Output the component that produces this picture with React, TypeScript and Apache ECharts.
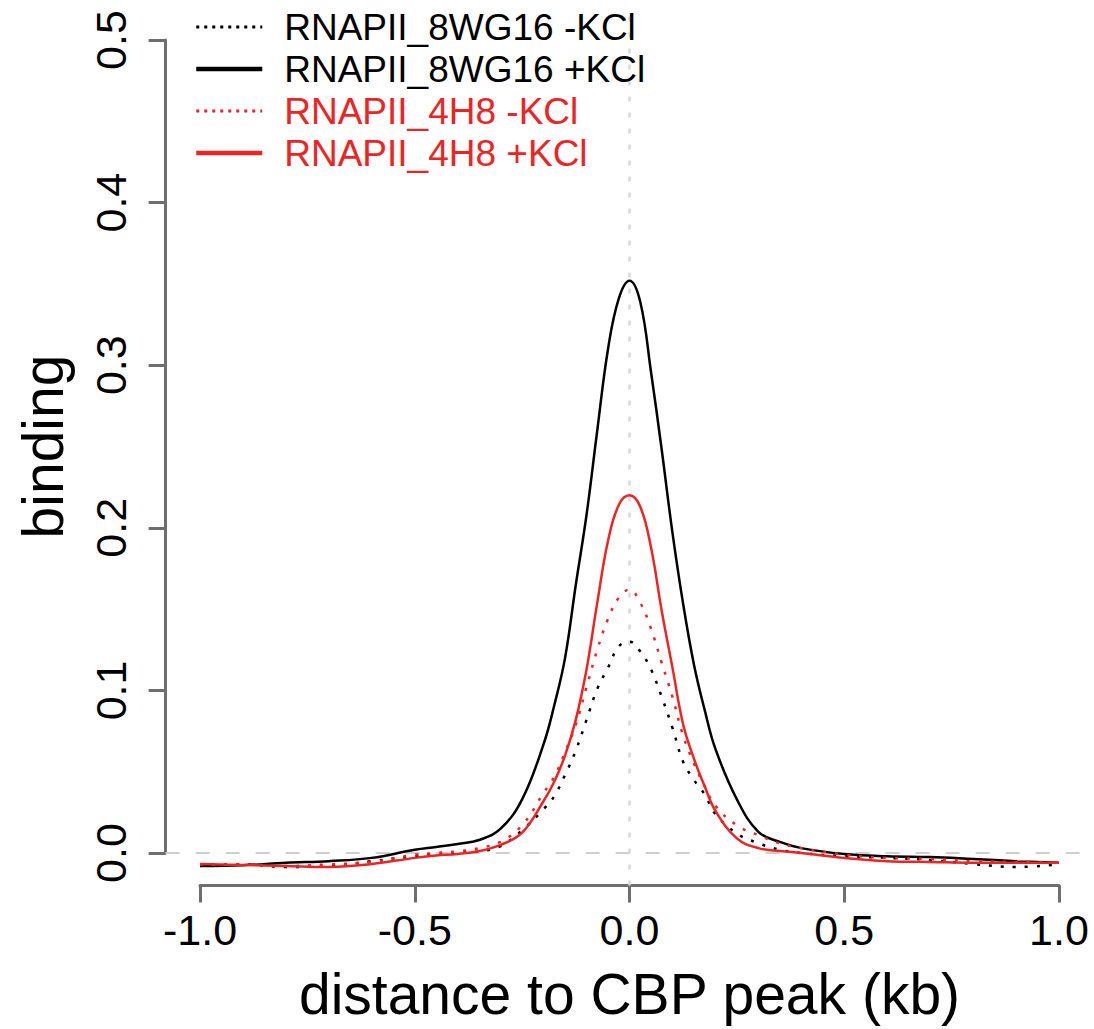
import React, { useEffect, useRef } from 'react';
import * as echarts from 'echarts';

// distance to CBP peak (kb)
const distance = [
  -1, -0.9, -0.8, -0.7, -0.6, -0.5, -0.45, -0.4, -0.35, -0.3, -0.25,
  -0.2, -0.175, -0.15, -0.125, -0.1, -0.075, -0.05, -0.025, 0,
  0.025, 0.05, 0.075, 0.1, 0.125, 0.15, 0.175, 0.2,
  0.25, 0.3, 0.35, 0.4, 0.5, 0.6, 0.7, 0.8, 0.9, 1.0,
];

const rnap8wg16Minus = [
  -0.007, -0.007, -0.0086, -0.008, -0.005, -0.002, -0.001, 0, 0.001, 0.0043, 0.014,
  0.027, 0.035, 0.048, 0.063, 0.082, 0.101, 0.114, 0.127, 0.130,
  0.124, 0.113, 0.096, 0.077, 0.056, 0.045, 0.036, 0.024,
  0.012, 0.006, 0.002, 0, -0.002, -0.003, -0.0043, -0.0068, -0.0086, -0.007,
];

const rnap8wg16Plus = [
  -0.008, -0.0075, -0.006, -0.005, -0.003, 0.002, 0.0037, 0.0055, 0.008, 0.015, 0.033,
  0.067, 0.091, 0.120, 0.165, 0.208, 0.260, 0.310, 0.341, 0.352,
  0.339, 0.296, 0.248, 0.197, 0.153, 0.116, 0.088, 0.064,
  0.033, 0.013, 0.0068, 0.003, -0.0006, -0.002, -0.0025, -0.0037, -0.005, -0.006,
];

const rnap4h8Minus = [
  -0.007, -0.007, -0.008, -0.007, -0.0055, -0.001, 0, 0.001, 0.003, 0.007, 0.017,
  0.037, 0.047, 0.062, 0.079, 0.102, 0.125, 0.144, 0.157, 0.162,
  0.154, 0.138, 0.117, 0.096, 0.072, 0.055, 0.041, 0.029,
  0.017, 0.011, 0.006, 0.003, -0.001, -0.003, -0.0037, -0.005, -0.0055, -0.006,
];

const rnap4h8Plus = [
  -0.0068, -0.0074, -0.008, -0.0086, -0.0068, -0.003, -0.0015, -0.0006, 0.0012, 0.005, 0.0125,
  0.032, 0.044, 0.060, 0.082, 0.113, 0.154, 0.192, 0.214, 0.220,
  0.213, 0.188, 0.149, 0.114, 0.079, 0.058, 0.041, 0.026,
  0.009, 0.003, 0.0012, 0, -0.003, -0.005, -0.0055, -0.006, -0.006, -0.006,
];

const seriesNames = [
  'RNAPII_8WG16 -KCl',
  'RNAPII_8WG16 +KCl',
  'RNAPII_4H8 -KCl',
  'RNAPII_4H8 +KCl',
];

const X_MIN = -1;
const X_MAX = 1;
const X_INTERVAL = 0.5;
const Y_MIN = 0;
const Y_MAX = 0.5;
const Y_INTERVAL = 0.1;

const FONT = "'Liberation Sans', Arial, Helvetica, sans-serif";
const RED = '#ec2424';
const BLACK = '#000000';
const AXIS_GRAY = '#6e6e6e';

const W = 1094;
const H = 1029;

export default function App() {
  const ref = useRef<HTMLDivElement>(null);

  useEffect(() => {
    if (!ref.current) return;
    const chart = echarts.init(ref.current, null, { renderer: 'svg' });

    // axis frame (R style): axes span only the tick range
    const g1 = { left: 200, right: 35, top: 40, bottom: 176 };
    const xPer = (W - g1.left - g1.right) / (X_MAX - X_MIN);
    const yPer = (H - g1.top - g1.bottom) / (Y_MAX - Y_MIN);
    const xPad = (X_MAX - X_MIN) * 0.04;
    const yPad = (Y_MAX - Y_MIN) * 0.04;
    // plot region (4% expanded)
    const g0 = {
      left: g1.left - xPad * xPer,
      right: g1.right - xPad * xPer,
      top: g1.top - yPad * yPer,
      bottom: g1.bottom - yPad * yPer,
    };

    const mk = (vals: number[]) => distance.map((d, i) => [d, vals[i]]);
    const dotted = [3, 9];
    const hiddenSymbol = { color: 'transparent', opacity: 0, borderWidth: 0 };

    const option: any = {
      animation: false,
      backgroundColor: '#ffffff',
      textStyle: { fontFamily: FONT },
      grid: [
        { ...g0, containLabel: false },
        { ...g1, containLabel: false },
      ],
      legend: {
        orient: 'vertical',
        left: 189,
        top: 1,
        itemWidth: 66,
        itemHeight: 20,
        itemGap: 0,
        itemStyle: hiddenSymbol,
        textStyle: {
          fontSize: 37,
          fontFamily: FONT,
          lineHeight: 42,
          padding: [0, 0, 0, 17],
        },
        data: [
          { name: seriesNames[0], textStyle: { color: BLACK }, itemStyle: hiddenSymbol, lineStyle: { type: [3, 5], width: 3 } },
          { name: seriesNames[1], textStyle: { color: BLACK }, itemStyle: hiddenSymbol, lineStyle: { width: 4.5 } },
          { name: seriesNames[2], textStyle: { color: RED }, itemStyle: hiddenSymbol, lineStyle: { type: [3, 5], width: 3 } },
          { name: seriesNames[3], textStyle: { color: RED }, itemStyle: hiddenSymbol, lineStyle: { width: 4.5 } },
        ],
      },
      xAxis: [
        {
          type: 'value',
          gridIndex: 0,
          min: X_MIN - xPad,
          max: X_MAX + xPad,
          show: false,
        },
        {
          type: 'value',
          gridIndex: 1,
          min: X_MIN,
          max: X_MAX,
          interval: X_INTERVAL,
          position: 'bottom',
          offset: yPad * yPer,
          axisLine: { show: true, onZero: false, lineStyle: { color: AXIS_GRAY, width: 3 } },
          axisTick: { show: true, length: 17, lineStyle: { color: AXIS_GRAY, width: 3 } },
          splitLine: { show: false },
          axisLabel: {
            fontSize: 43,
            color: '#000',
            fontFamily: FONT,
            margin: 23,
            formatter: (v: number) => v.toFixed(1),
          },
          name: 'distance to CBP peak (kb)',
          nameLocation: 'middle',
          nameGap: 80,
          nameTextStyle: { fontSize: 57, color: '#000', fontFamily: FONT },
        },
      ],
      yAxis: [
        {
          type: 'value',
          gridIndex: 0,
          min: Y_MIN - yPad,
          max: Y_MAX + yPad,
          show: false,
        },
        {
          type: 'value',
          gridIndex: 1,
          min: Y_MIN,
          max: Y_MAX,
          interval: Y_INTERVAL,
          position: 'left',
          offset: xPad * xPer,
          axisLine: { show: true, onZero: false, lineStyle: { color: AXIS_GRAY, width: 3 } },
          axisTick: { show: true, length: 17, lineStyle: { color: AXIS_GRAY, width: 3 } },
          splitLine: { show: false },
          axisLabel: {
            rotate: 90,
            fontSize: 43,
            color: '#000',
            fontFamily: FONT,
            margin: 33,
            formatter: (v: number) => v.toFixed(1),
          },
          name: 'binding',
          nameLocation: 'middle',
          nameGap: 94,
          nameTextStyle: { fontSize: 57, color: '#000', fontFamily: FONT },
        },
      ],
      series: [
        {
          name: seriesNames[0],
          type: 'line',
          xAxisIndex: 0,
          yAxisIndex: 0,
          data: mk(rnap8wg16Minus),
          smooth: 0.4,
          symbol: 'none',
          z: 3,
          lineStyle: { color: BLACK, width: 2.5, type: dotted },
          itemStyle: { color: BLACK },
          markLine: {
            silent: true,
            z: 1,
            symbol: ['none', 'none'],
            label: { show: false },
            data: [
              { yAxis: 0, lineStyle: { color: '#cfcfcf', width: 2, type: [14, 16] } },
              { xAxis: 0, lineStyle: { color: '#d9d9d9', width: 2.5, type: [5, 11] } },
            ],
          },
        },
        {
          name: seriesNames[1],
          type: 'line',
          xAxisIndex: 0,
          yAxisIndex: 0,
          data: mk(rnap8wg16Plus),
          smooth: 0.4,
          symbol: 'none',
          z: 3,
          lineStyle: { color: BLACK, width: 2.5, type: 'solid' },
          itemStyle: { color: BLACK },
        },
        {
          name: seriesNames[2],
          type: 'line',
          xAxisIndex: 0,
          yAxisIndex: 0,
          data: mk(rnap4h8Minus),
          smooth: 0.4,
          symbol: 'none',
          z: 3,
          lineStyle: { color: RED, width: 2.5, type: dotted },
          itemStyle: { color: RED },
        },
        {
          name: seriesNames[3],
          type: 'line',
          xAxisIndex: 0,
          yAxisIndex: 0,
          data: mk(rnap4h8Plus),
          smooth: 0.4,
          symbol: 'none',
          z: 3,
          lineStyle: { color: RED, width: 2.5, type: 'solid' },
          itemStyle: { color: RED },
        },
      ],
    };

    chart.setOption(option);
    return () => chart.dispose();
  }, []);

  return (
    <div
      ref={ref}
      style={{ position: 'fixed', left: 0, top: 0, width: W, height: H, background: '#fff' }}
    />
  );
}
